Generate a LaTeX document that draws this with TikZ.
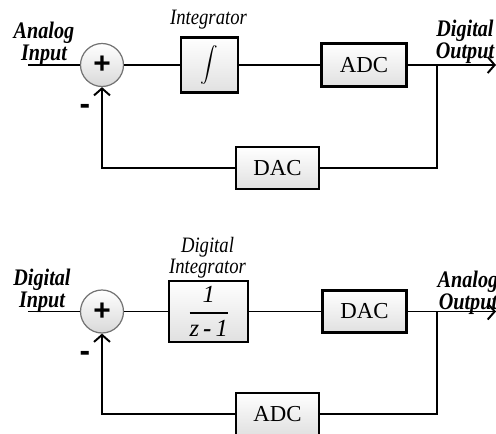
\documentclass[tikz,border=0pt]{standalone}
\usepackage{fontspec}
\setmainfont{Liberation Serif}
\newfontfamily\signfont{Liberation Sans}
\newfontfamily\narrowfont{Liberation Serif}[FakeStretch=0.85]
\usetikzlibrary{arrows.meta, positioning}
\tikzset{
    loop/.style={font=\fontsize{13}{15}\selectfont},
    loop box/.style={draw, line width=1.3pt, top color=white, bottom color=black!12,
        align=center, minimum width=1.66cm, minimum height=0.84cm, inner sep=1pt},
    loop sum/.style={circle, draw=black!55, line width=0.7pt, top color=white,
        bottom color=black!15, minimum size=0.86cm, inner sep=0pt,
        font=\signfont\bfseries\fontsize{17}{17}\selectfont},
    loop line/.style={line width=1.1pt},
    loop arrow/.style={line width=1.1pt, -{Straight Barb[length=1.4mm, width=3.2mm]}},
    loop label/.style={font=\narrowfont\bfseries\itshape\fontsize{13.5}{9}\selectfont, align=center, inner sep=0pt},
    loop title/.style={font=\narrowfont\itshape\fontsize{12.5}{9}\selectfont, align=center, inner sep=0pt},
    loop sign/.style={font=\signfont\bfseries\fontsize{18}{18}\selectfont, inner sep=0pt},
}

\begin{document}
\begin{tikzpicture}[loop]
    \useasboundingbox (0,0) rectangle (9.92,-8.68);

    % Nodes, analog in
    \node[loop sum] (sum1) at (2.04,-1.30) {+};
    \node[loop box, minimum width=1.14cm, minimum height=1.1cm, right=1.12cm of sum1] (integ)
        {{\fontsize{14}{16}\selectfont$\displaystyle\int$}};
    \node[loop box, minimum width=1.7cm, minimum height=0.86cm, right=1.62cm of integ] (adc1) {ADC};
    \node[loop box] (dac1) at (5.55,-3.36) {DAC};
    \coordinate (in1) at (0.56,-1.30);
    \coordinate (tap1) at (8.74,-1.30);
    \coordinate (out1) at (9.92,-1.30);

    \node[loop label] (inlbl1) at (0.88,-0.88) {Analog\\Input};
    \node[loop title] (intlbl) at (4.17,-0.40) {Integrator};
    \node[loop label] (outlbl1) at (9.30,-0.84) {Digital\\Output};
    \node[loop sign] (neg1) at (1.70,-2.18) {-};

    % Arrows, analog in
    \draw[loop line] (in1) -- (sum1);
    \draw[loop line] (sum1) -- (integ);
    \draw[loop line] (integ) -- (adc1);
    \draw[loop arrow] (adc1) -- (out1);
    \draw[loop line] (tap1) |- (dac1);
    \draw[loop arrow] (dac1) -| (sum1);

    % Nodes, digital in
    \node[loop sum] (sum2) at (2.04,-6.23) {+};
    \node[loop box, minimum width=1.58cm, minimum height=1.22cm, right=0.88cm of sum2] (dinteg)
        {\fontsize{14}{16}\selectfont$\displaystyle{\textit{1} \above 1.1pt \textit{z\,{\bfseries-}\,1}}$};
    \node[loop box, minimum width=1.68cm, right=1.44cm of dinteg] (dac2) {DAC};
    \node[loop box] (adc2) at (5.55,-8.28) {ADC};
    \coordinate (in2) at (0.56,-6.23);
    \coordinate (tap2) at (8.74,-6.23);
    \coordinate (out2) at (9.92,-6.23);

    \node[loop label] (inlbl2) at (0.84,-5.82) {Digital\\Input};
    \node[loop title] (dintlbl) at (4.15,-5.16) {Digital\\Integrator};
    \node[loop label] (outlbl2) at (9.36,-5.86) {Analog\\Output};
    \node[loop sign] (neg2) at (1.70,-7.12) {-};

    % Arrows, digital in
    \draw[loop line] (in2) -- (sum2);
    \draw[loop line] (sum2) -- (dinteg);
    \draw[loop line] (dinteg) -- (dac2);
    \draw[loop arrow] (dac2) -- (out2);
    \draw[loop line] (tap2) |- (adc2);
    \draw[loop arrow] (adc2) -| (sum2);

\end{tikzpicture}
\end{document}
